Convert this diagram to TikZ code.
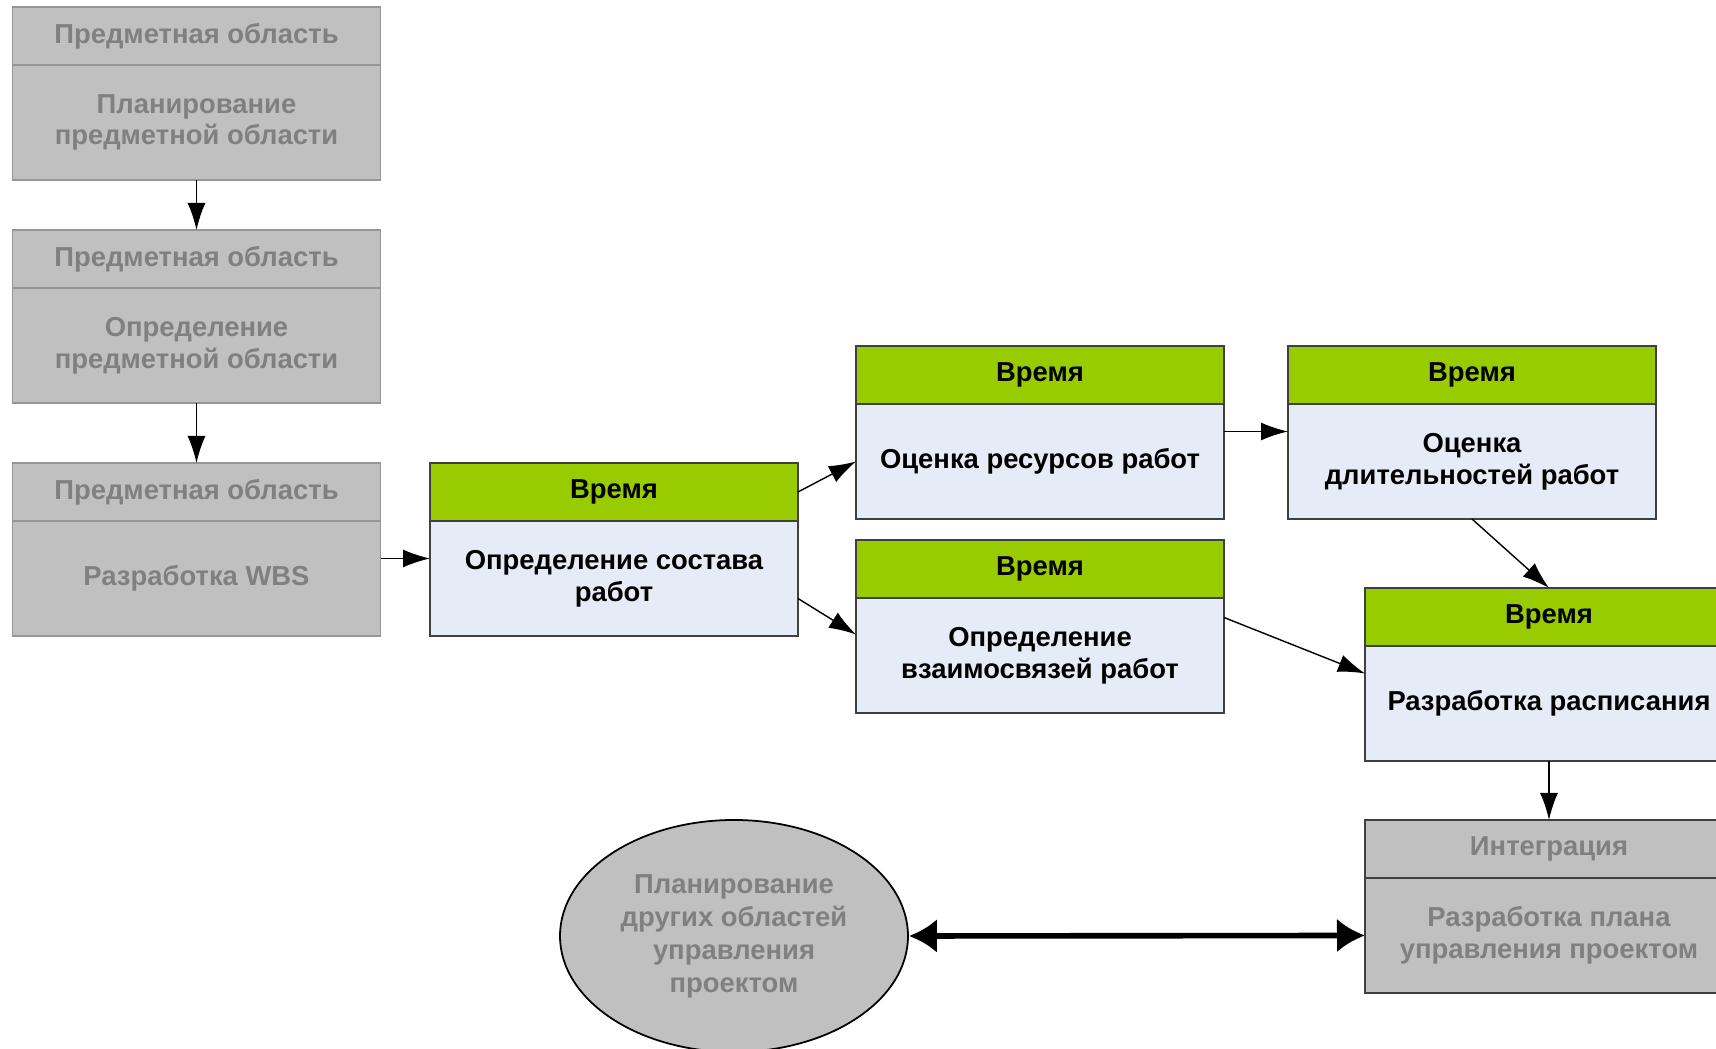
\documentclass[tikz,border=0pt]{standalone}
\usepackage{fontspec}
\setmainfont{Liberation Sans}
\usepackage{tikz}
\usetikzlibrary{arrows.meta, positioning, shapes.geometric}
\definecolor{areagray}{RGB}{192,192,192}
\definecolor{areaedge}{RGB}{150,150,150}
\definecolor{areatext}{RGB}{128,128,128}
\definecolor{timegreen}{RGB}{153,204,0}
\definecolor{timebody}{RGB}{230,236,247}
\definecolor{timeedge}{RGB}{64,64,64}

\begin{document}
\begin{tikzpicture}[>=Latex,font=\fontsize{7.8}{9}\selectfont\bfseries,areahead/.style={rectangle,draw=areaedge,fill=areagray,text=areatext,line width=0.5pt,outer sep=0pt,minimum width=36.8mm,minimum height=5.8mm,align=center},areabody/.style={areahead,minimum height=11.5mm},timehead/.style={rectangle,draw=timeedge,fill=timegreen,text=black,line width=0.5pt,outer sep=0pt,minimum width=36.8mm,minimum height=5.8mm,align=center},timebody/.style={timehead,fill=timebody,minimum height=11.5mm},link/.style={->,line width=0.4pt,-{Latex[length=2.7mm,width=1.8mm]}},bothway/.style={line width=1.6pt,{Latex[length=2.8mm,width=3.4mm]}-{Latex[length=2.8mm,width=3.4mm]}}]
\useasboundingbox (0,0) rectangle (17.16,-10.49);
\clip (0,0) rectangle (17.16,-10.49);
\node[areahead] (scopeH1) at (1.965,-0.36) {Предметная область};
\node[areabody,below=0pt of scopeH1] (scopeB1) {Планирование\\предметной области};
\node[areahead] (scopeH2) at (1.965,-2.59) {Предметная область};
\node[areabody,below=0pt of scopeH2] (scopeB2) {Определение\\предметной области};
\node[areahead] (scopeH3) at (1.965,-4.92) {Предметная область};
\node[areabody,below=0pt of scopeH3] (scopeB3) {Разработка WBS};
\node[timehead] (actH) at (6.14,-4.92) {Время};
\node[timebody,below=0pt of actH] (actB) {Определение состава\\работ};
\node[timehead] (resH) at (10.40,-3.75) {Время};
\node[timebody,below=0pt of resH] (resB) {Оценка ресурсов работ};
\node[timehead] (durH) at (14.72,-3.75) {Время};
\node[timebody,below=0pt of durH] (durB) {Оценка\\длительностей работ};
\node[timehead] (seqH) at (10.40,-5.69) {Время};
\node[timebody,below=0pt of seqH] (seqB) {Определение\\взаимосвязей работ};
\node[timehead] (schedH) at (15.49,-6.17) {Время};
\node[timebody,below=0pt of schedH] (schedB) {Разработка расписания};
\node[areahead,draw=timeedge] (integH) at (15.49,-8.49) {Интеграция};
\node[areabody,draw=timeedge,below=0pt of integH] (integB) {Разработка плана\\управления проектом};
\node[ellipse,draw=black,fill=areagray,text=areatext,line width=0.5pt,minimum width=34.8mm,minimum height=23.2mm,inner sep=0pt,align=center,font=\fontsize{7.8}{9.4}\selectfont\bfseries] (others) at (7.34,-9.36) {Планирование\\других областей\\управления\\проектом};
\draw[link] (scopeB1.south)--(scopeH2.north);
\draw[link] (scopeB2.south)--(scopeH3.north);
\draw[link] ([yshift=2mm]scopeB3.east)--([yshift=2mm]actB.west);
\draw[link] (actH.east)--(resB.west);
\draw[link] ([yshift=-2mm]actB.east)--([yshift=2.1mm]seqB.west);
\draw[link] ([yshift=3mm]resB.east)--([yshift=3mm]durB.west);
\draw[link] (durB.south)--(schedH.north);
\draw[link] ([yshift=3.8mm]seqB.east)--([yshift=3mm]schedB.west);
\draw[link] (schedB.south)--(integH.north);
\draw[bothway] (others.east)--(integB.west);
\end{tikzpicture}
\end{document}
